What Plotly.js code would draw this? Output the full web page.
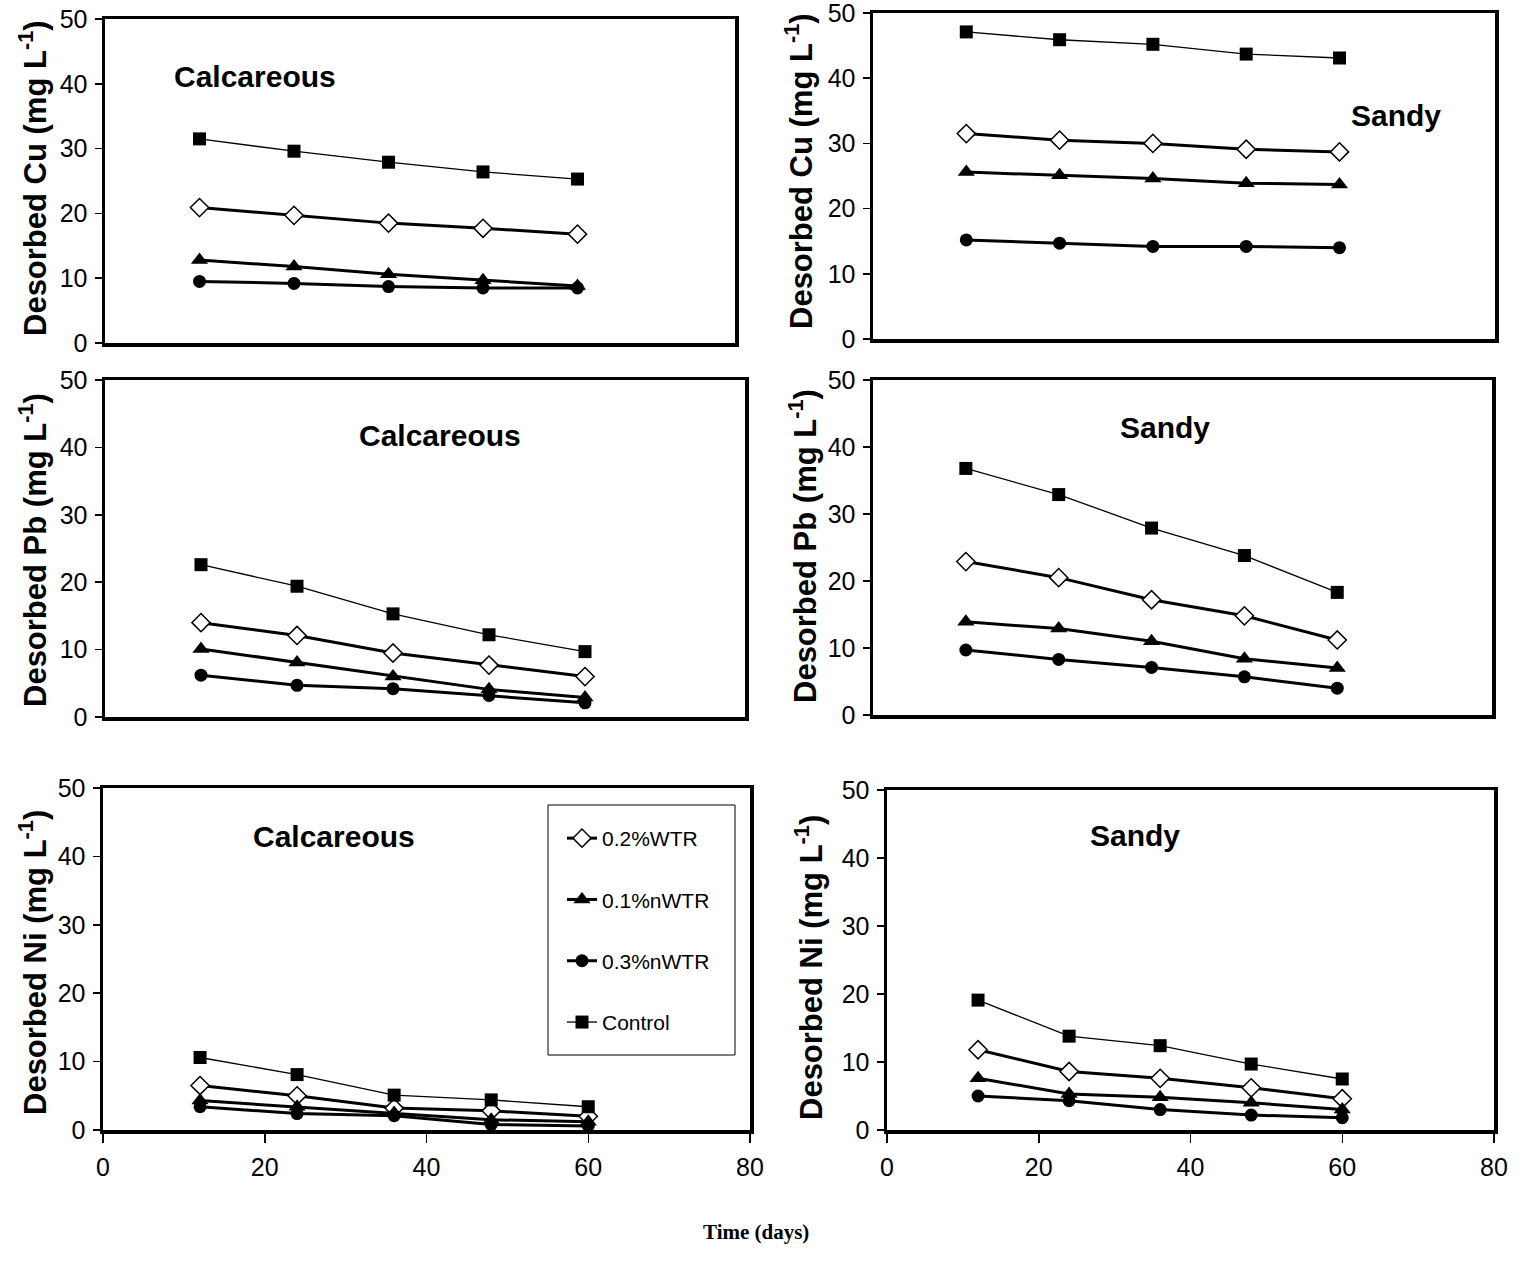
<!DOCTYPE html>
<html>
<head>
<meta charset="utf-8">
<script src="https://cdn.plot.ly/plotly-3.0.1.min.js"></script>
<style>html,body{margin:0;padding:0;background:#fff;}#chart{width:1522px;height:1265px;}</style>
</head>
<body>
<div id="chart"></div>
<script>
// ---- data ----
const days = [12, 24, 36, 48, 60];
const seriesNames = ["0.2%WTR", "0.1%nWTR", "0.3%nWTR", "Control"];
const panelLabels = ["Calcareous", "Sandy", "Calcareous", "Sandy", "Calcareous", "Sandy"];
const yTitles = ["Desorbed Cu (mg L<sup>-1</sup>)", "Desorbed Cu (mg L<sup>-1</sup>)",
                 "Desorbed Pb (mg L<sup>-1</sup>)", "Desorbed Pb (mg L<sup>-1</sup>)",
                 "Desorbed Ni (mg L<sup>-1</sup>)", "Desorbed Ni (mg L<sup>-1</sup>)"];
const xTitle = "Time (days)";
const xTickVals = [0, 20, 40, 60, 80];
const yTickVals = [0, 10, 20, 30, 40, 50];

const cuCalc_wtr02   = [20.9, 19.7, 18.5, 17.7, 16.8];
const cuCalc_nwtr01  = [12.8, 11.8, 10.6, 9.7, 8.8];
const cuCalc_nwtr03  = [9.5, 9.2, 8.7, 8.5, 8.5];
const cuCalc_control = [31.5, 29.6, 27.9, 26.4, 25.3];

const cuSandy_wtr02   = [31.5, 30.5, 30.0, 29.1, 28.7];
const cuSandy_nwtr01  = [25.6, 25.1, 24.6, 23.9, 23.7];
const cuSandy_nwtr03  = [15.2, 14.7, 14.2, 14.2, 14.0];
const cuSandy_control = [47.1, 45.9, 45.2, 43.7, 43.1];

const pbCalc_wtr02   = [14.0, 12.1, 9.5, 7.7, 6.0];
const pbCalc_nwtr01  = [10.1, 8.1, 6.0, 4.1, 2.9];
const pbCalc_nwtr03  = [6.2, 4.7, 4.2, 3.2, 2.1];
const pbCalc_control = [22.6, 19.4, 15.3, 12.2, 9.7];

const pbSandy_wtr02   = [22.9, 20.5, 17.2, 14.8, 11.2];
const pbSandy_nwtr01  = [13.9, 12.9, 11.0, 8.4, 7.0];
const pbSandy_nwtr03  = [9.7, 8.3, 7.1, 5.7, 4.0];
const pbSandy_control = [36.8, 32.9, 27.9, 23.8, 18.3];

const niCalc_wtr02   = [6.5, 5.0, 3.2, 2.8, 2.0];
const niCalc_nwtr01  = [4.3, 3.4, 2.5, 1.5, 1.2];
const niCalc_nwtr03  = [3.4, 2.4, 2.1, 0.8, 0.6];
const niCalc_control = [10.6, 8.1, 5.1, 4.4, 3.4];

const niSandy_wtr02   = [11.8, 8.6, 7.6, 6.2, 4.6];
const niSandy_nwtr01  = [7.6, 5.3, 4.8, 4.0, 3.0];
const niSandy_nwtr03  = [5.0, 4.3, 3.0, 2.2, 1.8];
const niSandy_control = [19.1, 13.8, 12.4, 9.7, 7.5];

// ---- layout helpers ----
const W = 1522, H = 1265;
const FONT = '"Liberation Sans", Arial, sans-serif';
const panelData = [
  [cuCalc_wtr02, cuCalc_nwtr01, cuCalc_nwtr03, cuCalc_control],
  [cuSandy_wtr02, cuSandy_nwtr01, cuSandy_nwtr03, cuSandy_control],
  [pbCalc_wtr02, pbCalc_nwtr01, pbCalc_nwtr03, pbCalc_control],
  [pbSandy_wtr02, pbSandy_nwtr01, pbSandy_nwtr03, pbSandy_control],
  [niCalc_wtr02, niCalc_nwtr01, niCalc_nwtr03, niCalc_control],
  [niSandy_wtr02, niSandy_nwtr01, niSandy_nwtr03, niSandy_control]
];
// pixel boxes [left, right, top, bottom]
const boxes = [
  [105, 735, 19, 343],
  [873, 1495, 13, 339],
  [105, 745, 380, 717],
  [873, 1492, 380, 715],
  [103, 750, 788, 1130],
  [887, 1494, 790, 1130]
];
const labelPos = [[255, 77], [1396, 115], [440, 435], [1165, 427], [334, 836], [1135, 835]];
const yTitlePos = [[33, 178], [799, 171], [33, 550], [803, 546], [33, 963], [809, 968]];

const styles = [
  {mode: 'lines+markers', line: {color: '#000', width: 3}, marker: {symbol: 'diamond', size: 14, color: '#fff', line: {color: '#000', width: 1.5}}},
  {mode: 'lines+markers', line: {color: '#000', width: 3}, marker: {symbol: 'triangle-up', size: 15, color: '#000'}},
  {mode: 'lines+markers', line: {color: '#000', width: 3}, marker: {symbol: 'circle', size: 13, color: '#000'}},
  {mode: 'lines+markers', line: {color: '#000', width: 1.3}, marker: {symbol: 'square', size: 13, color: '#000'}}
];

const traces = [];
const layout = {
  width: W, height: H,
  margin: {l: 0, r: 0, t: 0, b: 0},
  paper_bgcolor: '#fff', plot_bgcolor: '#fff',
  font: {family: FONT, color: '#000'},
  hovermode: false,
  showlegend: true,
  legend: {
    x: 562 / W, y: 1 - 818 / H, xanchor: 'left', yanchor: 'top',
    bgcolor: 'rgba(0,0,0,0)', borderwidth: 0,
    font: {family: FONT, size: 21, color: '#000'},
    tracegroupgap: 31, traceorder: 'grouped'
  },
  annotations: [],
  shapes: [
    {type: 'rect', xref: 'paper', yref: 'paper', x0: 548 / W, x1: 735 / W, y0: 1 - 1055 / H, y1: 1 - 805 / H,
     line: {color: '#000', width: 1}, fillcolor: 'rgba(0,0,0,0)', layer: 'above'}
  ]
};

for (let p = 0; p < 6; p++) {
  const sfx = p === 0 ? '' : String(p + 1);
  const [l, r, t, b] = boxes[p];
  const bottomRow = p >= 4;
  layout['xaxis' + sfx] = {
    domain: [l / W, r / W], range: [0, 80], anchor: 'y' + sfx,
    showgrid: false, zeroline: false, showline: true, mirror: true,
    linecolor: '#000', linewidth: 3.5,
    tickvals: xTickVals, ticks: bottomRow ? 'outside' : '', ticklen: 9, tickwidth: 1.5, tickcolor: '#000',
    showticklabels: bottomRow, ticklabelstandoff: 3, ticklabeloverflow: 'allow',
    tickfont: {family: FONT, size: 25, color: '#000'}, fixedrange: true
  };
  layout['yaxis' + sfx] = {
    domain: [1 - b / H, 1 - t / H], range: [0, 50], anchor: 'x' + sfx,
    showgrid: false, zeroline: false, showline: true, mirror: true,
    linecolor: '#000', linewidth: 3.5,
    tickvals: yTickVals, ticks: 'outside', ticklen: 7, tickwidth: 1.5, tickcolor: '#000',
    ticklabelstandoff: 2, ticklabeloverflow: 'allow',
    tickfont: {family: FONT, size: 25, color: '#000'}, fixedrange: true
  };
  for (let s = 0; s < 4; s++) {
    const st = styles[s];
    traces.push({
      type: 'scatter', x: days, y: panelData[p][s], xaxis: 'x' + sfx, yaxis: 'y' + sfx,
      name: seriesNames[s], mode: st.mode, line: st.line, marker: st.marker,
      showlegend: p === 4, legendgroup: 'g' + s, cliponaxis: false
    });
  }
  layout.annotations.push({
    xref: 'paper', yref: 'paper', x: labelPos[p][0] / W, y: 1 - labelPos[p][1] / H,
    xanchor: 'center', yanchor: 'middle', showarrow: false,
    text: '<b>' + panelLabels[p] + '</b>', font: {family: FONT, size: 30, color: '#000'}
  });
  layout.annotations.push({
    xref: 'paper', yref: 'paper', x: yTitlePos[p][0] / W, y: 1 - yTitlePos[p][1] / H,
    xanchor: 'center', yanchor: 'middle', showarrow: false, textangle: -90,
    text: '<b>' + yTitles[p] + '</b>', font: {family: FONT, size: 31, color: '#000'}
  });
}
layout.annotations.push({
  xref: 'paper', yref: 'paper', x: 756 / W, y: 1 - 1232 / H,
  xanchor: 'center', yanchor: 'middle', showarrow: false,
  text: '<b>' + xTitle + '</b>', font: {family: '"Liberation Serif", "Times New Roman", serif', size: 21, color: '#000'}
});

Plotly.newPlot('chart', traces, layout, {displayModeBar: false, staticPlot: true});
</script>
</body>
</html>
